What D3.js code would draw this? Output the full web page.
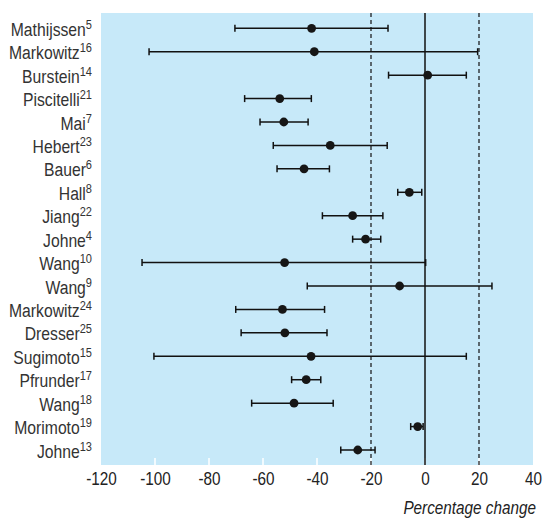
<!DOCTYPE html>
<html><head><meta charset="utf-8">
<script src="https://cdn.jsdelivr.net/npm/d3@7"></script>
<style>body{margin:0;background:#fff}</style>
</head><body>
<svg id="chart" width="544" height="520"></svg>
<script>
const names = ["Mathijssen","Markowitz","Burstein","Piscitelli","Mai","Hebert","Bauer","Hall","Jiang","Johne","Wang","Wang","Markowitz","Dresser","Sugimoto","Pfrunder","Wang","Morimoto","Johne"];
const refs = ["5","16","14","21","7","23","6","8","22","4","10","9","24","25","15","17","18","19","13"];
const estimate = [-42,-41,1,-53.8,-52.3,-35.1,-44.8,-5.8,-26.8,-22,-52,-9.4,-52.8,-51.9,-42.2,-44,-48.5,-2.7,-24.9];
const lower = [-70.4,-102.2,-13.5,-66.8,-61.1,-56.2,-54.8,-10.1,-38,-26.8,-104.8,-43.6,-70.1,-68.1,-100.4,-49.4,-64.2,-5.3,-31.2];
const upper = [-13.7,19.5,15.3,-42.1,-43.3,-14,-35.4,-1.2,-15.6,-16.4,0.25,24.8,-37.2,-36.3,15.3,-38.6,-34,-0.7,-18.5];
const xTicks = [-120,-100,-80,-60,-40,-20,0,20,40];
const refLines = [-20,20];
const xLabel = "Percentage change";

(function(){
const font = "'Liberation Sans',Arial,sans-serif";
const sx = 0.85;
const svg = d3.select("#chart");
const x = d3.scaleLinear().domain([-120,40]).range([101,533]);
const ids = d3.range(names.length);
const y = d3.scalePoint().domain(ids).range([28.3,450]);
const plotTop = 13, plotBottom = 465;

svg.append("rect").attr("x",x(-120)).attr("y",plotTop).attr("width",x(40)-x(-120)).attr("height",plotBottom-plotTop).attr("fill","#c7e9f9");

svg.append("g").selectAll("line").data(xTicks.slice(1,-1)).join("line")
  .attr("x1",d=>x(d)).attr("x2",d=>x(d)).attr("y1",plotBottom).attr("y2",plotBottom-7)
  .attr("stroke","#fff").attr("stroke-width",1.5);

const ax = svg.append("g").attr("transform",`translate(0,${plotBottom})`)
  .call(d3.axisBottom(x).tickValues(xTicks).tickSize(0).tickPadding(0).tickFormat(d=>String(d)));
ax.select(".domain").remove();
ax.selectAll(".tick text").attr("font-family",font).attr("font-size",18).attr("fill","#222")
  .attr("y",0).attr("dy",0).attr("transform",`translate(0,20) scale(${sx},1)`);

svg.append("g").selectAll("line").data(refLines).join("line")
  .attr("x1",d=>x(d)).attr("x2",d=>x(d)).attr("y1",plotTop).attr("y2",plotBottom)
  .attr("stroke","#111").attr("stroke-width",1.2).attr("stroke-dasharray","4,3");
svg.append("line").attr("x1",x(0)).attr("x2",x(0)).attr("y1",plotTop).attr("y2",plotBottom)
  .attr("stroke","#111").attr("stroke-width",1.5);

const rows = svg.append("g").selectAll("g").data(ids).join("g");
rows.append("line").attr("x1",i=>x(lower[i])).attr("x2",i=>x(upper[i])).attr("y1",i=>y(i)).attr("y2",i=>y(i))
  .attr("stroke","#111").attr("stroke-width",1.5);
rows.append("line").attr("x1",i=>x(lower[i])).attr("x2",i=>x(lower[i])).attr("y1",i=>y(i)-3.5).attr("y2",i=>y(i)+3.5)
  .attr("stroke","#111").attr("stroke-width",1.5);
rows.append("line").attr("x1",i=>x(upper[i])).attr("x2",i=>x(upper[i])).attr("y1",i=>y(i)-3.5).attr("y2",i=>y(i)+3.5)
  .attr("stroke","#111").attr("stroke-width",1.5);
rows.append("circle").attr("cx",i=>x(estimate[i])).attr("cy",i=>y(i)).attr("r",4.4).attr("fill","#161616");

const lab = svg.append("g").selectAll("text").data(ids).join("text")
  .attr("transform",i=>`translate(92,${y(i)+7.5}) scale(${sx},1)`).attr("text-anchor","end")
  .attr("font-family",font).attr("font-size",18.5).attr("fill","#333");
lab.append("tspan").text(i=>names[i]);
lab.append("tspan").attr("font-size",13).attr("dy",-7).text(i=>refs[i]);

svg.append("text").attr("transform",`translate(536,514) scale(${sx},1)`).attr("text-anchor","end")
  .attr("font-family",font).attr("font-size",18).attr("font-style","italic").attr("fill","#222").text(xLabel);
})();
</script>
</body></html>
